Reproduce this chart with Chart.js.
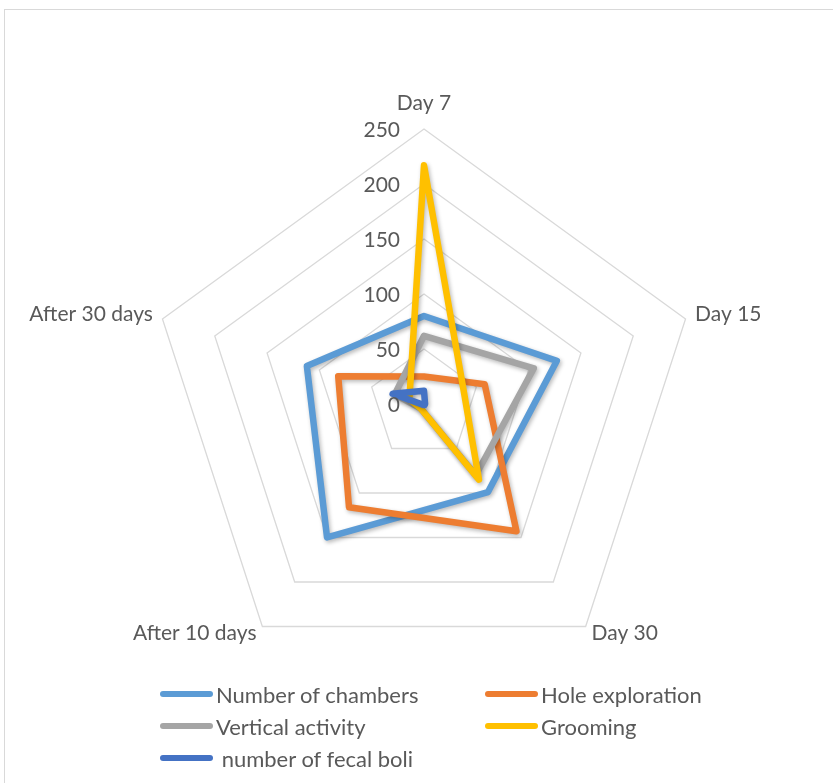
<!DOCTYPE html>
<html>
<head>
<meta charset="utf-8">
<script src="https://cdn.jsdelivr.net/npm/chart.js@4/dist/chart.umd.min.js"></script>
<style>
  html, body { margin: 0; padding: 0; background: #fff; }
  #wrap { position: relative; width: 833px; height: 783px; overflow: hidden; }
  #frame { position: absolute; left: 4px; top: 9px; width: 900px; height: 900px;
           border: 1px solid #d9d9d9; box-sizing: border-box; }
  canvas { position: absolute; left: 0; top: 0; }
  #legend { position: absolute; left: 0; top: 0; width: 833px; height: 783px; pointer-events: none;
            font-family: Lato, "Open Sans", sans-serif; font-size: 22px; color: #595959; }
  .item { position: absolute; display: flex; align-items: center; white-space: pre; height: 24px; }
  .swatch { width: 53px; height: 6px; border-radius: 3px; margin-right: 3px; }
</style>
</head>
<body>
<div id="wrap">
  <div id="frame"></div>
  <canvas id="c" width="833" height="783"></canvas>
  <div id="legend"></div>
</div>
<script>
// Axis categories around the radar
const categories = ['Day 7', 'Day 15', 'Day 30', 'After 10 days', 'After 30 days'];

// Series values, one per category
const numberOfChambers = [80, 127, 99, 150, 112];
const holeExploration  = [25, 58, 143, 116, 82];
const verticalActivity = [62, 105, 80, 5, 28];
const grooming         = [217, 38, 85, 5, 14];
const fecalBoli        = [12, 1, 1, 1, 30];

// Radial tick values
const tickValues = [0, 50, 100, 150, 200, 250];

const seriesNames = ['Number of chambers', 'Hole exploration', 'Vertical activity', 'Grooming', ' number of fecal boli'];
const seriesColors = ['#5B9BD5', '#ED7D31', '#A5A5A5', '#FFC000', '#4472C4'];
const seriesData = [numberOfChambers, holeExploration, verticalActivity, grooming, fecalBoli];

const labelFont = '21px Lato, "Open Sans", sans-serif';
const textColor = '#595959';

// Tick labels sit just left of the first spoke, centred on each ring
const tickLabelPlugin = {
  id: 'tickLabels',
  afterDraw(chart) {
    const r = chart.scales.r;
    const ctx = chart.ctx;
    ctx.save();
    ctx.font = labelFont;
    ctx.fillStyle = textColor;
    ctx.textAlign = 'right';
    ctx.textBaseline = 'middle';
    tickValues.forEach(v => {
      const p = r.getPointPositionForValue(0, v);
      ctx.fillText(String(v), p.x - 24, p.y + 1);
    });
    ctx.restore();
  }
};

// Category labels placed just outside the outer ring
const pointLabelPlugin = {
  id: 'outerLabels',
  afterDraw(chart) {
    const r = chart.scales.r;
    const ctx = chart.ctx;
    ctx.save();
    ctx.font = labelFont;
    ctx.fillStyle = textColor;
    categories.forEach((name, i) => {
      const p = r.getPointPosition(i, r.drawingArea + 10);
      const dx = p.x - r.xCenter;
      if (Math.abs(dx) < 2) {
        ctx.textAlign = 'center';
        ctx.textBaseline = 'middle';
        ctx.fillText(name, p.x, p.y - 16);
      } else {
        ctx.textAlign = dx > 0 ? 'left' : 'right';
        ctx.textBaseline = 'middle';
        const dy = p.y > r.yCenter ? -1 : -2;
        ctx.fillText(name, p.x, p.y + dy);
      }
    });
    ctx.restore();
  }
};

// Soft drop shadow under the series lines
const shadowPlugin = {
  id: 'lineShadow',
  beforeDatasetDraw(chart) {
    const ctx = chart.ctx;
    ctx.save();
    ctx.shadowColor = 'rgba(0,0,0,0.28)';
    ctx.shadowBlur = 4;
    ctx.shadowOffsetX = 1.5;
    ctx.shadowOffsetY = 2;
  },
  afterDatasetDraw(chart) {
    chart.ctx.restore();
  }
};

const datasets = seriesData.map((vals, i) => ({
  label: seriesNames[i],
  data: vals,
  borderColor: seriesColors[i],
  backgroundColor: 'transparent',
  borderWidth: 6.5,
  borderJoinStyle: 'round',
  borderCapStyle: 'round',
  pointRadius: 0,
  pointHoverRadius: 0,
  fill: false,
  order: seriesData.length - i
}));

const chart = new Chart(document.getElementById('c'), {
  type: 'radar',
  data: { labels: categories, datasets },
  options: {
    responsive: false,
    animation: false,
    events: [],
    layout: { padding: { left: 149, right: 134, top: 129, bottom: 104 } },
    plugins: { legend: { display: false }, tooltip: { enabled: false } },
    elements: { line: { tension: 0 } },
    scales: {
      r: {
        min: 0,
        max: 250,
        beginAtZero: true,
        ticks: { display: false, stepSize: 50 },
        pointLabels: { display: false },
        angleLines: { display: false },
        grid: { circular: false, color: '#d9d9d9', lineWidth: 1.3 }
      }
    }
  },
  plugins: [shadowPlugin, tickLabelPlugin, pointLabelPlugin]
});

// Two-column legend built from the chart's datasets
const legendPos = [
  [160, 682], [485, 682],
  [160, 714], [485, 714],
  [160, 746]
];
const legendEl = document.getElementById('legend');
chart.data.datasets.forEach((ds, i) => {
  const item = document.createElement('div');
  item.className = 'item';
  item.style.left = legendPos[i][0] + 'px';
  item.style.top = legendPos[i][1] + 'px';
  const sw = document.createElement('span');
  sw.className = 'swatch';
  sw.style.background = ds.borderColor;
  const tx = document.createElement('span');
  tx.textContent = ds.label;
  item.appendChild(sw);
  item.appendChild(tx);
  legendEl.appendChild(item);
});
</script>
</body>
</html>
